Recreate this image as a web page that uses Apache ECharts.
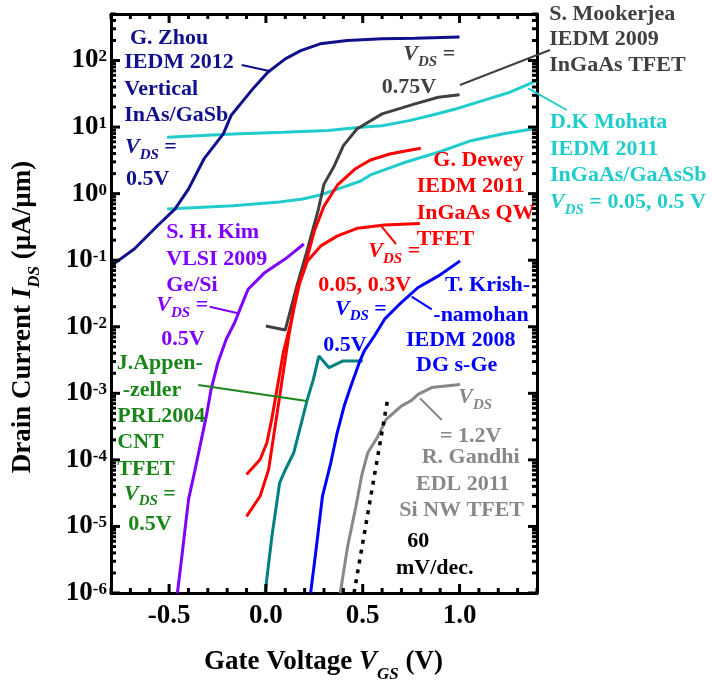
<!DOCTYPE html>
<html>
<head>
<meta charset="utf-8">
<script src="https://cdn.jsdelivr.net/npm/echarts@6/dist/echarts.min.js"></script>
<style>
html, body { margin: 0; padding: 0; background: #fff; }
#chart { width: 712px; height: 686px; }
</style>
</head>
<body>
<div id="chart"></div>
<script>
// ---------- data (gate voltage V, drain current µA/µm) ----------
const zhouV = [-0.80, -0.68, -0.56, -0.47, -0.40, -0.32, -0.22, -0.18, -0.11, -0.06, 0.01, 0.10, 0.18, 0.28, 0.42, 0.60, 0.77, 1.00];
const zhouI = [0.0822, 0.147, 0.329, 0.586, 1.17, 3.32, 7.89, 14.9, 26.5, 39.8, 66.8, 106, 141, 178, 200, 212, 217, 225];

const mohataHiV = [-0.51, -0.17, 0.09, 0.32, 0.49, 0.60, 0.74, 0.86, 0.98, 1.12, 1.26, 1.40];
const mohataHiI = [7.03, 7.89, 8.37, 8.85, 9.95, 10.5, 12.5, 15.2, 18.7, 25.0, 33.4, 50.0];

const mohataLoV = [-0.51, -0.17, 0.07, 0.19, 0.28, 0.37, 0.49, 0.54, 0.72, 0.89, 1.06, 1.22, 1.40];
const mohataLoI = [0.586, 0.658, 0.748, 0.832, 0.953, 1.17, 1.55, 1.91, 2.96, 4.19, 6.25, 7.89, 9.62];

const mookV = [0.00, 0.10, 0.16, 0.21, 0.27, 0.30, 0.35, 0.40, 0.47, 0.60, 0.77, 0.89, 1.00];
const mookI = [0.0103, 0.00895, 0.0411, 0.131, 0.566, 1.39, 2.51, 5.26, 9.38, 15.8, 22.3, 28.1, 30.5];

const deweyHiV = [-0.10, -0.03, 0.005, 0.03, 0.06, 0.09, 0.13, 0.16, 0.20, 0.25, 0.30, 0.37, 0.46, 0.54, 0.64, 0.72, 0.80];
const deweyHiI = [6.05e-5, 1.01e-4, 1.81e-4, 4.06e-4, 1.29e-3, 4.09e-3, 0.0121, 0.0366, 0.0785, 0.274, 0.650, 1.35, 2.34, 3.20, 3.94, 4.38, 4.81];

const deweyLoV = [-0.10, -0.03, 0.014, 0.04, 0.066, 0.092, 0.118, 0.144, 0.173, 0.214, 0.283, 0.37, 0.474, 0.612, 0.795];
const deweyLoI = [1.42e-5, 2.84e-5, 7.18e-5, 2.28e-4, 7.23e-4, 2.29e-3, 7.28e-3, 0.0183, 0.0437, 0.0968, 0.164, 0.232, 0.303, 0.337, 0.357];

const kimV = [-0.457, -0.436, -0.418, -0.399, -0.368, -0.333, -0.306, -0.283, -0.248, -0.205, -0.161, -0.127, -0.092, -0.005, 0.099, 0.196];
const kimI = [1e-6, 3.18e-6, 8.97e-6, 2.59e-5, 6.68e-5, 2.03e-4, 4.82e-4, 1.15e-3, 2.89e-3, 6.49e-3, 0.0116, 0.0206, 0.0366, 0.0655, 0.104, 0.175];

const appenV = [-0.004, 0.031, 0.071, 0.101, 0.144, 0.179, 0.214, 0.245, 0.274, 0.326, 0.396, 0.500];
const appenI = [1e-6, 7.11e-6, 4.52e-5, 7.18e-5, 1.28e-4, 3.21e-4, 8.11e-4, 1.62e-3, 3.64e-3, 2.43e-3, 3.05e-3, 3.05e-3];

const krishV = [0.231, 0.257, 0.292, 0.335, 0.366, 0.404, 0.439, 0.482, 0.508, 0.560, 0.613, 0.699, 0.786, 0.891, 1.003];
const krishI = [1e-6, 4.0e-6, 2.84e-5, 9.03e-5, 2.41e-4, 6.43e-4, 1.29e-3, 2.89e-3, 4.33e-3, 7.26e-3, 0.0130, 0.0231, 0.0389, 0.0581, 0.0977];

const gandhiV = [0.384, 0.422, 0.465, 0.496, 0.526, 0.578, 0.621, 0.699, 0.752, 0.786, 0.856, 1.003];
const gandhiI = [1e-6, 5.02e-6, 2.01e-5, 6.03e-5, 1.28e-4, 2.25e-4, 4.06e-4, 6.43e-4, 7.83e-4, 9.64e-4, 1.22e-3, 1.36e-3];

const slopeV = [0.455, 0.627];
const slopeI = [1e-6, 7.6e-4];

// ---------- ticks ----------
const xTickValues = [-0.5, 0.0, 0.5, 1.0];
const xTickLabels = ['-0.5', '0.0', '0.5', '1.0'];
const yTickExp = [-6, -5, -4, -3, -2, -1, 0, 1, 2];
const yTickSup = ['-6', '-5', '-4', '-3', '-2', '-1', '0', '1', '2'];

const X_MIN = -0.8, X_MAX = 1.4, Y_MIN = 1e-6, Y_MAX = 500;
const LY_MAX = Math.log10(Y_MAX);

// tick marks drawn through the axes' scales (positions only; style lives in renderItem)
const tickMarks = [];
for (let k = -8; k <= 14; k++) {
  const v = k / 10;
  const major = xTickValues.some(t => Math.abs(t - v) < 1e-9);
  tickMarks.push({ x: v, y: Y_MIN, side: 'bottom', major });
  tickMarks.push({ x: v, y: Y_MAX, side: 'top', major });
}
for (let n = -6; n <= 2; n++) {
  for (let k = 1; k <= 9; k++) {
    const val = k * Math.pow(10, n);
    if (val > Y_MAX) continue;
    tickMarks.push({ x: X_MIN, y: val, side: 'left', major: k === 1 });
    tickMarks.push({ x: X_MAX, y: val, side: 'right', major: k === 1 });
  }
}

const SERIF = "'Liberation Serif', 'Times New Roman', serif";
const zip = (a, b) => a.map((v, i) => [v, b[i]]);

function curve(name, V, I, color, extra) {
  return Object.assign({
    name, type: 'line', xAxisIndex: 0, yAxisIndex: 0,
    data: zip(V, I), showSymbol: false, symbol: 'none', smooth: false,
    lineStyle: { color, width: 3 }, animation: false, silent: true
  }, extra || {});
}

const xMainAxis = {
  type: 'value', min: X_MIN, max: X_MAX, position: 'bottom',
  axisLine: { show: true, onZero: false, lineStyle: { color: '#000', width: 3 } },
  splitLine: { show: false }, axisTick: { show: false },
  axisLabel: {
    show: true, customValues: xTickValues, margin: 10,
    fontFamily: SERIF, fontWeight: 'bold', fontSize: 27, color: '#000',
    formatter: v => {
      const i = xTickValues.findIndex(t => Math.abs(t - v) < 1e-9);
      return i >= 0 ? xTickLabels[i] : '';
    }
  }
};
const xTopAxis = {
  type: 'value', min: X_MIN, max: X_MAX, position: 'top',
  axisLine: { show: true, onZero: false, lineStyle: { color: '#000', width: 3 } },
  splitLine: { show: false }, axisTick: { show: false }, axisLabel: { show: false }
};
const yLogAxis = {
  type: 'log', logBase: 10, min: Y_MIN, max: Y_MAX, position: 'left',
  axisLine: { show: true, onZero: false, lineStyle: { color: '#000', width: 3 } },
  splitLine: { show: false }, axisTick: { show: false }, axisLabel: { show: false }
};
const yLeftLabels = {
  type: 'value', min: -6, max: LY_MAX, position: 'left',
  axisLine: { show: false, onZero: false }, splitLine: { show: false }, axisTick: { show: false },
  axisLabel: {
    show: true, customValues: yTickExp, margin: 4,
    formatter: v => {
      const i = yTickExp.findIndex(t => Math.abs(t - v) < 1e-9);
      return i >= 0 ? '{b|10}{s|' + yTickSup[i] + '}' : '';
    },
    rich: {
      b: { fontFamily: SERIF, fontWeight: 'bold', fontSize: 27, color: '#000' },
      s: { fontFamily: SERIF, fontWeight: 'bold', fontSize: 17, color: '#000', padding: [0, 0, 7, 0] }
    }
  }
};
const yRightAxis = {
  type: 'log', logBase: 10, min: Y_MIN, max: Y_MAX, position: 'right',
  axisLine: { show: true, onZero: false, lineStyle: { color: '#000', width: 3 } },
  splitLine: { show: false }, axisTick: { show: false }, axisLabel: { show: false }
};

// ---------- annotations ----------
function mkRich(color, size, subSize, subShift) {
  return {
    i: { fill: color, fontFamily: SERIF, fontWeight: 'bold', fontStyle: 'italic', fontSize: size },
    sub: { fill: color, fontFamily: SERIF, fontWeight: 'bold', fontStyle: 'italic', fontSize: subSize, padding: [subShift * 2, 0, 0, 0] }
  };
}
function txt(x, y, s, color, opt) {
  opt = opt || {};
  const size = opt.size || 22;
  return {
    type: 'text', x, y, z: 100, silent: true, rotation: opt.rotation || 0,
    style: {
      text: s, fill: color, fontFamily: SERIF, fontWeight: 'bold', fontSize: size,
      align: opt.align || 'left', verticalAlign: 'middle',
      textAlign: opt.align || 'left', textVerticalAlign: 'middle',
      rich: mkRich(color, size, opt.sub || 15, opt.shift || 7.5)
    }
  };
}
function lead(x1, y1, x2, y2, color) {
  return { type: 'line', z: 100, silent: true, shape: { x1, y1, x2, y2 }, style: { stroke: color, lineWidth: 2 } };
}
const VDS = '{i|V}{sub|DS}';
const C = {
  zhou: '#10108c', mook: '#404040', mohata: '#22cccc', dewey: '#ff0000', kim: '#8000ff',
  appen: '#1a861a', teal: '#008080', krish: '#0000ff', gandhi: '#888888'
};

const graphics = [
  txt(130, 38.3, 'G. Zhou', C.zhou), txt(124.3, 62.8, 'IEDM 2012', C.zhou), txt(124.3, 89, 'Vertical', C.zhou),
  txt(124.3, 115.8, 'InAs/GaSb', C.zhou), txt(125, 147.5, VDS + ' =', C.zhou), txt(126, 179.7, '0.5V', C.zhou),
  lead(241.7, 65, 269.3, 71, C.zhou),
  txt(549.3, 14.2, 'S. Mookerjea', C.mook), txt(549.3, 39, 'IEDM 2009', C.mook), txt(549.3, 65.8, 'InGaAs TFET', C.mook),
  txt(403.3, 54.2, VDS + ' =', C.mook), txt(381.7, 87.5, '0.75V', C.mook),
  lead(460, 85, 550, 50, C.mook),
  txt(550, 122.5, 'D.K Mohata', C.mohata), txt(550, 149, 'IEDM 2011', C.mohata), txt(550, 175.8, 'InGaAs/GaAsSb', C.mohata),
  txt(550, 202.5, VDS + ' = 0.05, 0.5 V', C.mohata),
  lead(528.3, 88.3, 566.7, 110, C.mohata),
  txt(433.3, 160.3, 'G. Dewey', C.dewey), txt(416.7, 186.7, 'IEDM 2011', C.dewey), txt(416.7, 213, 'InGaAs QW', C.dewey),
  txt(416.7, 239, 'TFET', C.dewey), txt(368.3, 251.7, VDS + ' =', C.dewey), txt(318.3, 285.7, '0.05, 0.3V', C.dewey),
  lead(381.7, 226.7, 396, 244, C.dewey),
  txt(166.3, 232.5, 'S. H. Kim', C.kim), txt(166.3, 259.2, 'VLSI 2009', C.kim), txt(166.3, 285, 'Ge/Si', C.kim),
  txt(156.3, 305.8, VDS + ' =', C.kim), txt(161.3, 339.2, '0.5V', C.kim),
  lead(209.7, 306.7, 238, 313.3, C.kim),
  txt(116.7, 363.3, 'J.Appen-', C.appen), txt(122.7, 390, '-zeller', C.appen), txt(117.3, 416.7, 'PRL2004', C.appen),
  txt(117.3, 442.5, 'CNT', C.appen), txt(117.3, 469.2, 'TFET', C.appen), txt(124, 494, VDS + ' =', C.appen),
  txt(128.3, 524, '0.5V', C.appen),
  lead(198.3, 385, 306.7, 401, C.appen),
  txt(445, 285.5, 'T. Krish-', C.krish), txt(433.3, 315, '-namohan', C.krish), txt(406, 340.8, 'IEDM 2008', C.krish),
  txt(416, 365.8, 'DG s-Ge', C.krish), txt(335, 309, VDS + ' =', C.krish), txt(323.3, 345, '0.5V', C.krish),
  lead(411.7, 296.7, 431.7, 309.3, C.krish),
  txt(458.3, 397.5, VDS, C.gandhi), txt(440, 436.7, '= 1.2V', C.gandhi), txt(421.7, 457.5, 'R. Gandhi', C.gandhi),
  txt(416, 484, 'EDL 2011', C.gandhi), txt(399.3, 510, 'Si NW TFET', C.gandhi),
  lead(420, 398.3, 441.7, 420, C.gandhi),
  txt(407.3, 541.7, '60', '#000'), txt(396, 568.3, 'mV/dec.', '#000'),
  txt(323.5, 662.5, 'Gate Voltage {i|V}{sub|GS} (V)', '#000', { size: 27, sub: 17, shift: 12, align: 'center' }),
  txt(23, 317, 'Drain Current {i|I}{sub|DS} (µA/µm)', '#000', { size: 27, sub: 17, shift: 12, align: 'center', rotation: Math.PI / 2 })
];

const tickSeries = {
  name: 'ticks', type: 'custom', coordinateSystem: 'cartesian2d', xAxisIndex: 0, yAxisIndex: 0,
  silent: true, animation: false, clip: false, z: 5,
  data: tickMarks.map(t => [t.x, t.y]),
  renderItem: (params, api) => {
    const t = tickMarks[params.dataIndex];
    const p = api.coord([api.value(0), api.value(1)]);
    const L = t.major ? 9 : 5;
    let x2 = p[0], y2 = p[1];
    if (t.side === 'bottom') y2 -= L;
    else if (t.side === 'top') y2 += L;
    else if (t.side === 'left') x2 += L;
    else x2 -= L;
    return { type: 'line', shape: { x1: p[0], y1: p[1], x2: x2, y2: y2 }, style: { stroke: '#000', lineWidth: 3 } };
  }
};

const chart = echarts.init(document.getElementById('chart'), null, { renderer: 'canvas' });
chart.setOption({
  backgroundColor: '#fff',
  animation: false,
  grid: { left: 111, top: 14, width: 426, height: 579, containLabel: false },
  xAxis: [xMainAxis, xTopAxis],
  yAxis: [yLogAxis, yLeftLabels, yRightAxis],
  series: [
    tickSeries,
    curve('Mohata 0.05V', mohataLoV, mohataLoI, C.mohata),
    curve('Mohata 0.5V', mohataHiV, mohataHiI, C.mohata),
    curve('Zhou', zhouV, zhouI, C.zhou),
    curve('Mookerjea', mookV, mookI, C.mook),
    curve('Dewey 0.05V', deweyLoV, deweyLoI, C.dewey),
    curve('Dewey 0.3V', deweyHiV, deweyHiI, C.dewey),
    curve('Kim', kimV, kimI, C.kim),
    curve('Appenzeller', appenV, appenI, C.teal),
    curve('Krishnamohan', krishV, krishI, C.krish),
    curve('Gandhi', gandhiV, gandhiI, C.gandhi),
    curve('60 mV/dec', slopeV, slopeI, '#000', { lineStyle: { color: '#000', width: 3.5, type: [4, 6] } })
  ],
  graphic: graphics
});
</script>
</body>
</html>
